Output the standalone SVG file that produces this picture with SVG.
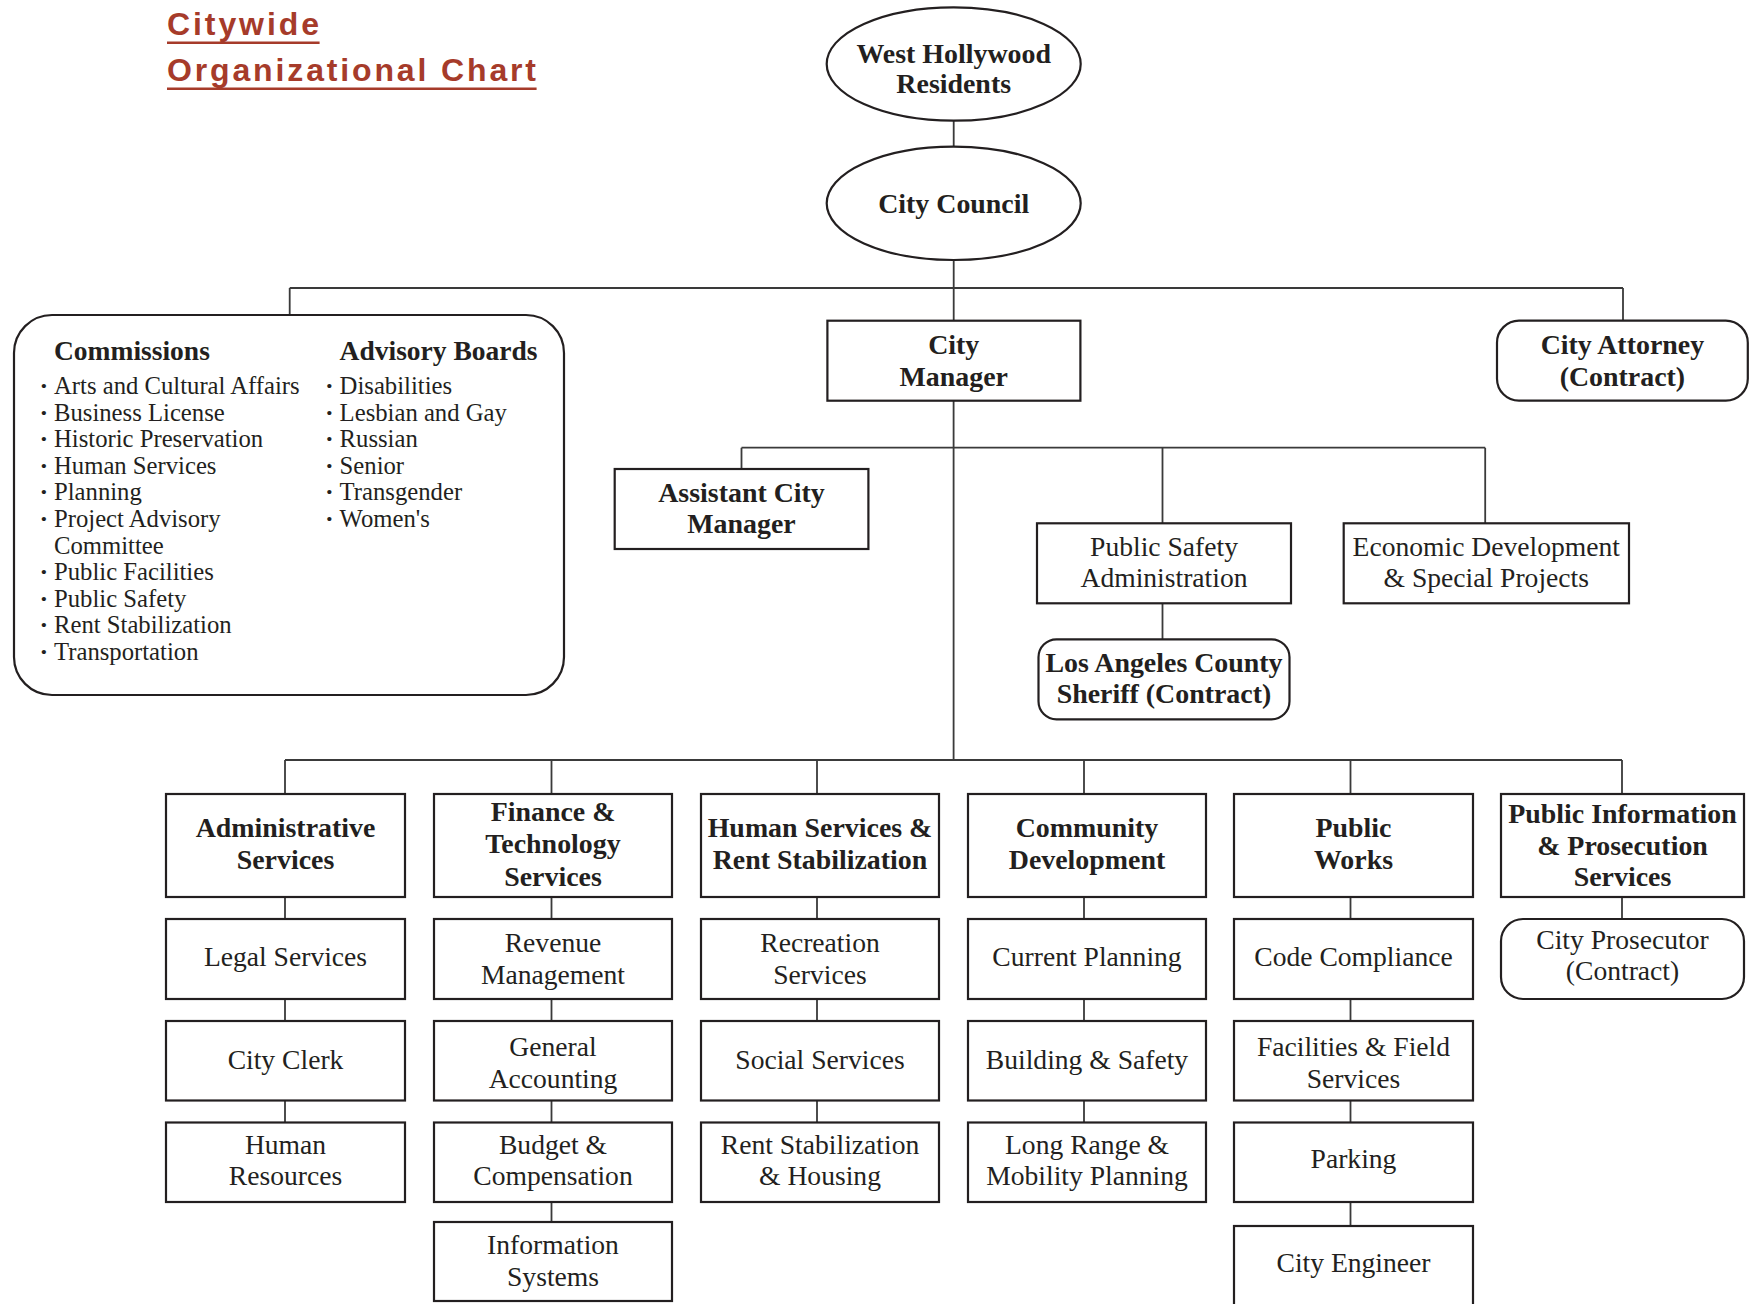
<svg xmlns="http://www.w3.org/2000/svg" width="1750" height="1304" viewBox="0 0 1750 1304">
<style>
.box{fill:#fff;stroke:#231f20;stroke-width:2.2}
.ln{fill:none;stroke:#3a3a3a;stroke-width:1.8}
.t{font-family:"Liberation Serif","Times New Roman",serif;fill:#231f20;text-anchor:middle;font-size:27.6px}
.b{font-weight:bold;font-size:27.9px}
.l{font-family:"Liberation Serif","Times New Roman",serif;fill:#231f20;font-size:24.7px}
.d{font-family:"Liberation Serif","Times New Roman",serif;fill:#231f20;font-size:26px;font-weight:bold}
.h{font-family:"Liberation Serif","Times New Roman",serif;fill:#231f20;font-size:27.5px;font-weight:bold}
.title{font-family:"Liberation Sans",Arial,sans-serif;font-weight:bold;font-size:32px;fill:#a63b2a}
.ul{stroke:#a63b2a;stroke-width:2.4}
</style>
<g id="title">
<text class="title" x="167" y="35" textLength="152" lengthAdjust="spacing">Citywide</text>
<line class="ul" x1="167" y1="42.7" x2="319.6" y2="42.7"/>
<text class="title" x="167" y="81" textLength="369" lengthAdjust="spacing">Organizational Chart</text>
<line class="ul" x1="167" y1="88.7" x2="536.6" y2="88.7"/>
</g>
<g id="connectors">
<path class="ln" d="M953.7 120.7V146.7M953.7 260V320.7M289.7 288H1623M289.7 288V315M1623 288V320.7M953.6 400.7V760M741.5 447.7H1485.2M741.5 447.7V469M1162.5 447.7V523.3M1485.2 447.7V523.3M1162.5 603.3V639.3M285 760H1622"/>
<path class="ln" d="M285 760V794M285 897V919M285 999V1021M285 1100.5V1122.5"/>
<path class="ln" d="M551.5 760V794M551.5 897V919M551.5 999V1021M551.5 1100.5V1122.5M551.5 1202V1222"/>
<path class="ln" d="M817 760V794M817 897V919M817 999V1021M817 1100.5V1122.5"/>
<path class="ln" d="M1084 760V794M1084 897V919M1084 999V1021M1084 1100.5V1122.5"/>
<path class="ln" d="M1350.5 760V794M1350.5 897V919M1350.5 999V1021M1350.5 1100.5V1122.5M1350.5 1202V1226"/>
<path class="ln" d="M1622 760V794M1622 897V919"/>
</g>
<g id="residents">
<ellipse class="box" cx="953.7" cy="64" rx="127" ry="56.7"/>
<text class="t b" x="953.7" y="62.7" font-size="29">West Hollywood</text>
<text class="t b" x="953.7" y="93.3" font-size="29">Residents</text>
</g>
<g id="council">
<ellipse class="box" cx="953.7" cy="203.3" rx="127" ry="56.7"/>
<text class="t b" x="953.7" y="213.3" font-size="29">City Council</text>
</g>
<g id="commissions">
<rect class="box" x="14" y="315" width="550" height="380" rx="38"/>
<text class="h" x="54" y="360">Commissions</text>
<text class="d" x="39.5" y="394">·</text><text class="l" x="54" y="394">Arts and Cultural Affairs</text>
<text class="d" x="39.5" y="420.6">·</text><text class="l" x="54" y="420.6">Business License</text>
<text class="d" x="39.5" y="447.2">·</text><text class="l" x="54" y="447.2">Historic Preservation</text>
<text class="d" x="39.5" y="473.8">·</text><text class="l" x="54" y="473.8">Human Services</text>
<text class="d" x="39.5" y="500.4">·</text><text class="l" x="54" y="500.4">Planning</text>
<text class="d" x="39.5" y="527">·</text><text class="l" x="54" y="527">Project Advisory</text>
<text class="l" x="54" y="553.6">Committee</text>
<text class="d" x="39.5" y="580.2">·</text><text class="l" x="54" y="580.2">Public Facilities</text>
<text class="d" x="39.5" y="606.8">·</text><text class="l" x="54" y="606.8">Public Safety</text>
<text class="d" x="39.5" y="633.4">·</text><text class="l" x="54" y="633.4">Rent Stabilization</text>
<text class="d" x="39.5" y="660">·</text><text class="l" x="54" y="660">Transportation</text>
<text class="h" x="339.6" y="360">Advisory Boards</text>
<text class="d" x="325" y="394">·</text><text class="l" x="339.6" y="394">Disabilities</text>
<text class="d" x="325" y="420.6">·</text><text class="l" x="339.6" y="420.6">Lesbian and Gay</text>
<text class="d" x="325" y="447.2">·</text><text class="l" x="339.6" y="447.2">Russian</text>
<text class="d" x="325" y="473.8">·</text><text class="l" x="339.6" y="473.8">Senior</text>
<text class="d" x="325" y="500.4">·</text><text class="l" x="339.6" y="500.4">Transgender</text>
<text class="d" x="325" y="527">·</text><text class="l" x="339.6" y="527">Women's</text>
</g>
<g id="city-manager">
<rect class="box" x="827.4" y="320.7" width="253" height="80"/>
<text class="t b" x="953.7" y="354">City</text>
<text class="t b" x="953.7" y="386">Manager</text>
</g>
<g id="city-attorney">
<rect class="box" x="1497" y="320.7" width="250.8" height="80" rx="22"/>
<text class="t b" x="1622.4" y="354">City Attorney</text>
<text class="t b" x="1622.4" y="386">(Contract)</text>
</g>
<g id="assistant-city-manager">
<rect class="box" x="614.7" y="469" width="253.7" height="80"/>
<text class="t b" x="741.5" y="501.7">Assistant City</text>
<text class="t b" x="741.5" y="532.7">Manager</text>
</g>
<g id="public-safety-admin">
<rect class="box" x="1037" y="523.3" width="254" height="80"/>
<text class="t" x="1164" y="556">Public Safety</text>
<text class="t" x="1164" y="587.3">Administration</text>
</g>
<g id="economic-development">
<rect class="box" x="1343.7" y="523.3" width="285.3" height="80"/>
<text class="t" x="1486.3" y="556">Economic Development</text>
<text class="t" x="1486.3" y="587.3">&amp; Special Projects</text>
</g>
<g id="sheriff">
<rect class="box" x="1038.5" y="639.3" width="251" height="80" rx="18"/>
<text class="t b" x="1164" y="671.7">Los Angeles County</text>
<text class="t b" x="1164" y="703.3">Sheriff (Contract)</text>
</g>
<g id="administrative-services">
<rect class="box" x="166" y="794" width="239" height="103"/>
<text class="t b" x="285.5" y="837">Administrative</text>
<text class="t b" x="285.5" y="868.8">Services</text>
</g>
<g id="legal-services">
<rect class="box" x="166" y="919" width="239" height="80"/>
<text class="t" x="285.5" y="966">Legal Services</text>
</g>
<g id="city-clerk">
<rect class="box" x="166" y="1021" width="239" height="79.5"/>
<text class="t" x="285.5" y="1069">City Clerk</text>
</g>
<g id="human-resources">
<rect class="box" x="166" y="1122.5" width="239" height="79.5"/>
<text class="t" x="285.5" y="1153.7">Human</text>
<text class="t" x="285.5" y="1185.3">Resources</text>
</g>
<g id="finance-technology">
<rect class="box" x="434" y="794" width="238" height="103"/>
<text class="t b" x="553" y="821">Finance &amp;</text>
<text class="t b" x="553" y="853">Technology</text>
<text class="t b" x="553" y="885.7">Services</text>
</g>
<g id="revenue-management">
<rect class="box" x="434" y="919" width="238" height="80"/>
<text class="t" x="553" y="951.5">Revenue</text>
<text class="t" x="553" y="983.9">Management</text>
</g>
<g id="general-accounting">
<rect class="box" x="434" y="1021" width="238" height="79.5"/>
<text class="t" x="553" y="1055.8">General</text>
<text class="t" x="553" y="1087.8">Accounting</text>
</g>
<g id="budget-compensation">
<rect class="box" x="434" y="1122.5" width="238" height="79.5"/>
<text class="t" x="553" y="1153.7">Budget &amp;</text>
<text class="t" x="553" y="1185.3">Compensation</text>
</g>
<g id="information-systems">
<rect class="box" x="434" y="1222" width="238" height="79"/>
<text class="t" x="553" y="1253.7">Information</text>
<text class="t" x="553" y="1285.7">Systems</text>
</g>
<g id="human-services-rent">
<rect class="box" x="701" y="794" width="238" height="103"/>
<text class="t b" x="820" y="837">Human Services &amp;</text>
<text class="t b" x="820" y="868.8">Rent Stabilization</text>
</g>
<g id="recreation-services">
<rect class="box" x="701" y="919" width="238" height="80"/>
<text class="t" x="820" y="951.5">Recreation</text>
<text class="t" x="820" y="983.9">Services</text>
</g>
<g id="social-services">
<rect class="box" x="701" y="1021" width="238" height="79.5"/>
<text class="t" x="820" y="1069">Social Services</text>
</g>
<g id="rent-stabilization-housing">
<rect class="box" x="701" y="1122.5" width="238" height="79.5"/>
<text class="t" x="820" y="1153.7">Rent Stabilization</text>
<text class="t" x="820" y="1185.3">&amp; Housing</text>
</g>
<g id="community-development">
<rect class="box" x="968" y="794" width="238" height="103"/>
<text class="t b" x="1087" y="837">Community</text>
<text class="t b" x="1087" y="868.8">Development</text>
</g>
<g id="current-planning">
<rect class="box" x="968" y="919" width="238" height="80"/>
<text class="t" x="1087" y="966">Current Planning</text>
</g>
<g id="building-safety">
<rect class="box" x="968" y="1021" width="238" height="79.5"/>
<text class="t" x="1087" y="1069">Building &amp; Safety</text>
</g>
<g id="long-range-planning">
<rect class="box" x="968" y="1122.5" width="238" height="79.5"/>
<text class="t" x="1087" y="1153.7">Long Range &amp;</text>
<text class="t" x="1087" y="1185.3">Mobility Planning</text>
</g>
<g id="public-works">
<rect class="box" x="1234" y="794" width="239" height="103"/>
<text class="t b" x="1353.5" y="837">Public</text>
<text class="t b" x="1353.5" y="868.8">Works</text>
</g>
<g id="code-compliance">
<rect class="box" x="1234" y="919" width="239" height="80"/>
<text class="t" x="1353.5" y="966">Code Compliance</text>
</g>
<g id="facilities-field">
<rect class="box" x="1234" y="1021" width="239" height="79.5"/>
<text class="t" x="1353.5" y="1055.8">Facilities &amp; Field</text>
<text class="t" x="1353.5" y="1087.8">Services</text>
</g>
<g id="parking">
<rect class="box" x="1234" y="1122.5" width="239" height="79.5"/>
<text class="t" x="1353.5" y="1168">Parking</text>
</g>
<g id="city-engineer">
<rect class="box" x="1234" y="1226" width="239" height="90"/>
<text class="t" x="1353.5" y="1271.7">City Engineer</text>
</g>
<g id="public-information-prosecution">
<rect class="box" x="1501" y="794" width="243" height="103"/>
<text class="t b" x="1622.5" y="823">Public Information</text>
<text class="t b" x="1622.5" y="855">&amp; Prosecution</text>
<text class="t b" x="1622.5" y="886">Services</text>
</g>
<g id="city-prosecutor">
<rect class="box" x="1501" y="919" width="243" height="80" rx="22"/>
<text class="t" x="1622.5" y="948.6">City Prosecutor</text>
<text class="t" x="1622.5" y="980.3">(Contract)</text>
</g>
</svg>
